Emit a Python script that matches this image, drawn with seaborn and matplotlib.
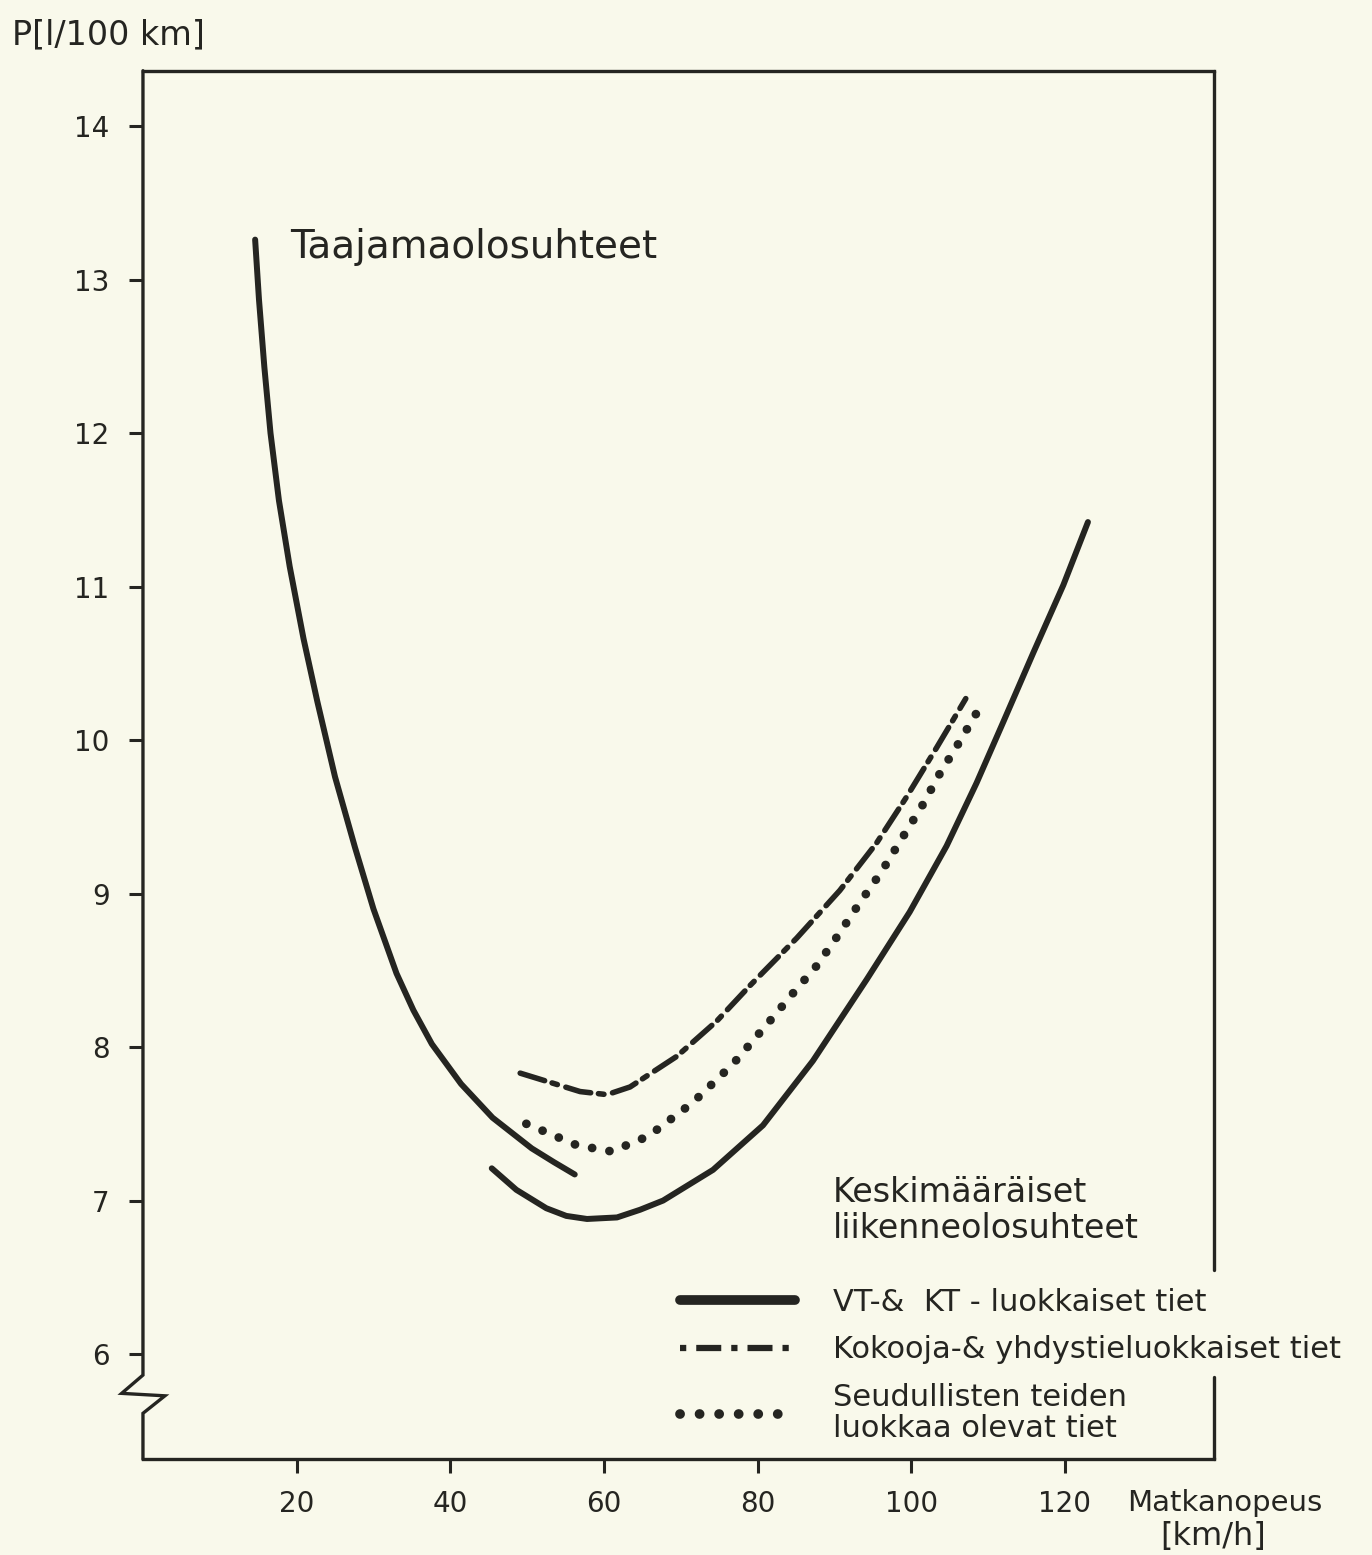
import matplotlib
matplotlib.use("Agg")
import matplotlib.pyplot as plt
from matplotlib.lines import Line2D
import seaborn as sns

# Taajamaolosuhteet (urban conditions), solid
urban_speed = [14.6, 15.1, 15.8, 16.6, 17.7, 19.1, 20.9, 22.7, 25.0, 27.6, 30.0,
               33.0, 35.2, 37.6, 41.4, 45.5, 50.6, 53.5, 56.2]
urban_cons = [13.26, 12.87, 12.43, 12.00, 11.56, 11.13, 10.66, 10.25, 9.76, 9.30, 8.90,
              8.48, 8.24, 8.02, 7.76, 7.54, 7.34, 7.25, 7.17]

# VT- & KT-luokkaiset tiet, solid
vtkt_speed = [45.4, 48.6, 52.5, 55.1, 57.8, 61.7, 64.7, 67.7, 74.2, 80.7, 87.2, 94.2,
              99.8, 104.6, 108.5, 112.0, 115.9, 119.8, 123.0]
vtkt_cons = [7.21, 7.07, 6.95, 6.90, 6.88, 6.89, 6.94, 7.00, 7.20, 7.49, 7.91, 8.44,
             8.88, 9.31, 9.72, 10.12, 10.57, 11.01, 11.42]

# Kokooja- & yhdystieluokkaiset tiet, dash-dot
kok_speed = [49.1, 56.9, 60.4, 63.4, 69.5, 74.7, 79.0, 85.1, 90.7, 95.5, 99.4, 103.3, 107.1]
kok_cons = [7.83, 7.71, 7.69, 7.74, 7.94, 8.17, 8.40, 8.71, 9.02, 9.33, 9.63, 9.95, 10.27]

# Seudullisten teiden luokkaa olevat tiet, dotted
seu_speed = [49.9, 56.5, 61.0, 65.8, 71.6, 76.8, 81.6, 84.6, 87.7, 90.5, 93.3, 96.1,
             98.8, 101.4, 103.7, 106.3, 108.9]
seu_cons = [7.50, 7.36, 7.32, 7.42, 7.64, 7.89, 8.17, 8.35, 8.53, 8.73, 8.94, 9.14,
            9.36, 9.57, 9.78, 9.99, 10.21]

x_ticks = [20, 40, 60, 80, 100, 120]
y_ticks = [6, 7, 8, 9, 10, 11, 12, 13, 14]
legend_labels = ["VT-&  KT - luokkaiset tiet",
                 "Kokooja-& yhdystieluokkaiset tiet",
                 "Seudullisten teiden\nluokkaa olevat tiet"]

BG = "#f9f9eb"
INK = "#252521"

sns.set_theme(style="white")
plt.rcParams["font.family"] = ["DejaVu Sans"]
plt.rcParams["text.color"] = INK

fig = plt.figure(figsize=(13.72, 15.55), dpi=100, facecolor=BG)
ax = fig.add_axes([0.1042, 0.0615, 0.7806, 0.893])
ax.set_facecolor(BG)

dashdot = (0, (4.6, 1.4, 1.0, 1.6))
dotted = (0, (0.01, 2.0))

sns.lineplot(x=urban_speed, y=urban_cons, ax=ax, color=INK, lw=4.3, sort=False,
             estimator=None, solid_capstyle="round", solid_joinstyle="round")
sns.lineplot(x=vtkt_speed, y=vtkt_cons, ax=ax, color=INK, lw=4.3, sort=False,
             estimator=None, solid_capstyle="round", solid_joinstyle="round")
sns.lineplot(x=kok_speed, y=kok_cons, ax=ax, color=INK, lw=4.0, sort=False,
             estimator=None, linestyle=dashdot, dash_capstyle="round")
sns.lineplot(x=seu_speed, y=seu_cons, ax=ax, color=INK, lw=6.3, sort=False,
             estimator=None, linestyle=dotted, dash_capstyle="round")

ax.set_xlim(0, 139.4)
ax.set_ylim(5.314, 14.36)
ax.set_xticks(x_ticks)
ax.set_yticks(y_ticks)
ax.set_xlabel("")
ax.set_ylabel("")
ax.tick_params(axis="both", direction="out", length=10, width=2.2, color=INK,
               labelsize=20, labelcolor=INK)
ax.tick_params(axis="x", pad=12, bottom=True)
ax.tick_params(axis="y", pad=14, left=True)

for side in ["top", "bottom"]:
    ax.spines[side].set_color(INK)
    ax.spines[side].set_linewidth(2.4)
ax.spines["left"].set_visible(False)
ax.spines["right"].set_visible(False)

# left spine with the axis break zigzag, right spine interrupted by the legend
ytr = ax.get_yaxis_transform()
ax.plot([0, 0, -0.0199, 0.0205, 0, 0], [14.36, 5.863, 5.744, 5.728, 5.614, 5.314],
        transform=ytr, color=INK, lw=2.4, clip_on=False, solid_joinstyle="miter")
ax.plot([1, 1], [14.36, 6.547], transform=ytr, color=INK, lw=2.4, clip_on=False)
ax.plot([1, 1], [5.85, 5.314], transform=ytr, color=INK, lw=2.4, clip_on=False)

ax.text(19.1, 13.21, "Taajamaolosuhteet", fontsize=28, va="center", ha="left", color=INK)
ax.text(89.8, 6.935, "Keskimääräiset\nliikenneolosuhteet", fontsize=24, va="center",
        ha="left", color=INK, linespacing=1.08)

handles = [
    Line2D([], [], color=INK, lw=7),
    Line2D([], [], color=INK, lw=4.5, linestyle=(0, (1.0, 1.6, 4.0, 1.6))),
    Line2D([], [], color=INK, lw=7, linestyle=dotted, dash_capstyle="round"),
]
leg = ax.legend(handles, legend_labels, loc="upper left", bbox_to_anchor=(0.5014, 0.1235),
                frameon=False, fontsize=22, handlelength=3.75, handletextpad=1.25,
                labelspacing=0.6, borderpad=0, borderaxespad=0)
for t in leg.get_texts():
    t.set_linespacing(1.12)

fig.text(0.0087, 0.9775, "P[l/100 km]", fontsize=24, va="center", ha="left", color=INK)
fig.text(0.8214, 0.0334, "Matkanopeus", fontsize=21, va="center", ha="left", color=INK)
fig.text(0.8455, 0.0116, "[km/h]", fontsize=23, va="center", ha="left", color=INK)

fig.savefig("out.png", dpi=100, facecolor=BG)
